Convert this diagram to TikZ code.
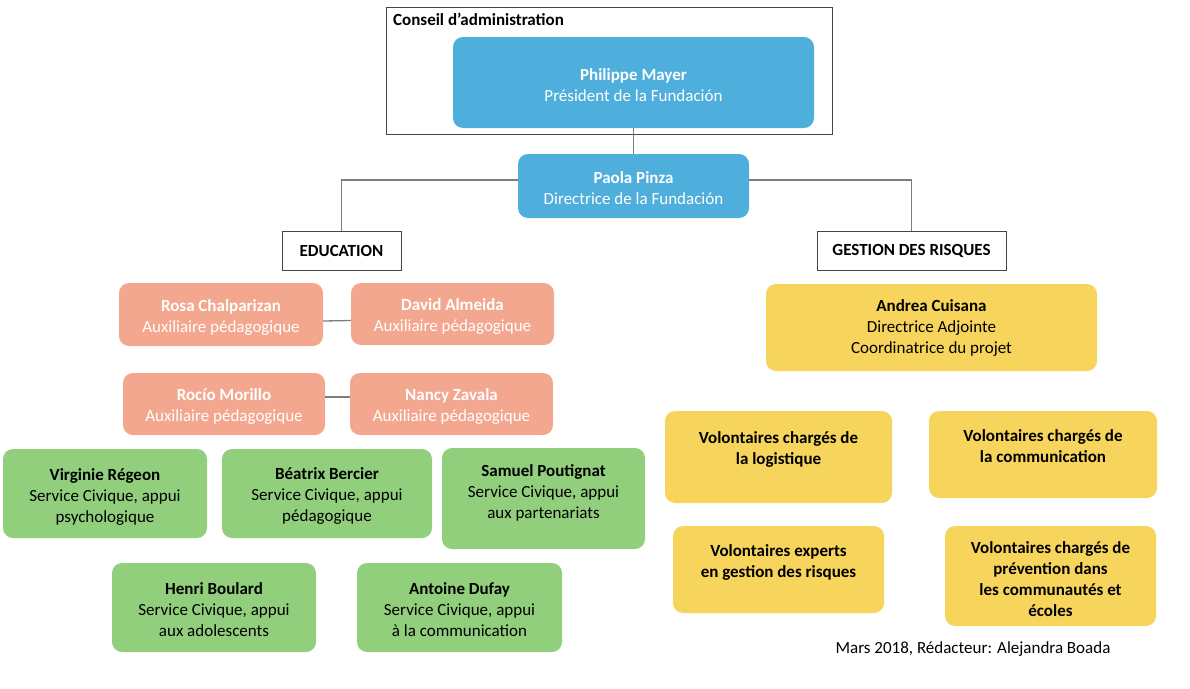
\documentclass[tikz,border=0pt]{standalone}
\usepackage{fontspec}
\setmainfont{Carlito}
\usetikzlibrary{calc}
\definecolor{cblue}{RGB}{78,174,220}
\definecolor{csalmon}{RGB}{244,167,143}
\definecolor{cgreen}{RGB}{145,207,125}
\definecolor{cyellow}{RGB}{247,213,92}
\definecolor{linegray}{RGB}{125,125,125}
\definecolor{framegray}{RGB}{70,70,70}
\tikzset{
  base/.style={rounded corners=10pt, inner sep=0pt},
  bluebox/.style={base, fill=cblue},
  salmonbox/.style={base, fill=csalmon},
  greenbox/.style={base, fill=cgreen},
  yellowbox/.style={base, fill=cyellow},
  txt/.style={inner sep=0pt, align=center, font=\fontsize{17}{21}\selectfont},
  wtxt/.style={txt, text=white},
  btxt/.style={txt, font=\fontsize{17}{21}\selectfont\bfseries},
  hdr/.style={draw=framegray, line width=0.9pt, fill=white, inner sep=0pt, font=\fontsize{17}{21}\selectfont\bfseries},
  conn/.style={draw=linegray, line width=1.3pt},
}
\begin{document}
\begin{tikzpicture}[x=1pt,y=-1pt]
\useasboundingbox (0,0) rectangle (1190,688);

% Conseil d'administration frame
\node[draw=framegray, line width=0.9pt, minimum width=446pt, minimum height=127pt, inner sep=0pt] (conseil) at (609,70.5) {};
\node[btxt, anchor=base west] (conseiltxt) at (393,25) {Conseil d’administration};

% top
\node[bluebox, minimum width=361pt, minimum height=91pt] (phil) at (633.5,82.5) {};
\node[wtxt] (philt) at (633.5,85) {\textbf{Philippe Mayer}\\Président de la Fundación};
\node[bluebox, minimum width=231pt, minimum height=64pt] (paola) at (633.5,186) {};
\node[wtxt] (paolat) at (633.5,188.5) {\textbf{Paola Pinza}\\Directrice de la Fundación};

% headers
\node[hdr, minimum width=119pt, minimum height=39pt] (edu) at (341.5,250.5) {EDUCATION};
\node[hdr, minimum width=189pt, minimum height=39pt] (gest) at (911.5,250.5) {GESTION DES RISQUES};

% connectors
\draw[conn] (phil.south) -- (paola.north);
\draw[conn] ([yshift=6pt]paola.west) -| (edu.north);
\draw[conn] ([yshift=6pt]paola.east) -| (gest.north);

% education - salmon
\node[salmonbox, minimum width=204pt, minimum height=63pt] (rosa) at (221,314.5) {};
\node[wtxt] (rosat) at (221,317) {\textbf{Rosa Chalparizan}\\Auxiliaire pédagogique};
\node[salmonbox, minimum width=203pt, minimum height=62pt] (david) at (452.5,314) {};
\node[wtxt] (davidt) at (452.5,316.5) {\textbf{David Almeida}\\Auxiliaire pédagogique};
\node[salmonbox, minimum width=202pt, minimum height=62pt] (rocio) at (224,404) {};
\node[wtxt] (rociot) at (224,406.5) {\textbf{Rocío Morillo}\\Auxiliaire pédagogique};
\node[salmonbox, minimum width=203pt, minimum height=62pt] (nancy) at (451.5,404) {};
\node[wtxt] (nancyt) at (451.5,406.5) {\textbf{Nancy Zavala}\\Auxiliaire pédagogique};
\draw[conn] ([yshift=-6.5pt]rosa.east) -- ([yshift=-6.5pt]david.west);
\draw[conn] ([yshift=7pt]rocio.east) -- ([yshift=7pt]nancy.west);

% education - green
\node[greenbox, minimum width=204pt, minimum height=89pt] (virg) at (105,493.5) {};
\node[txt] (virgt) at (105,496.5) {\textbf{Virginie Régeon}\\Service Civique, appui\\psychologique};
\node[greenbox, minimum width=210pt, minimum height=89pt] (beat) at (327,493.5) {};
\node[txt] (beatt) at (327,496) {\textbf{Béatrix Bercier}\\Service Civique, appui\\pédagogique};
\node[greenbox, minimum width=203pt, minimum height=101pt] (samu) at (543.5,498.5) {};
\node[txt] (samut) at (543.5,492.5) {\textbf{Samuel Poutignat}\\Service Civique, appui\\aux partenariats};
\node[greenbox, minimum width=204pt, minimum height=89pt] (henri) at (214,607.5) {};
\node[txt] (henrit) at (214,610) {\textbf{Henri Boulard}\\Service Civique, appui\\aux adolescents};
\node[greenbox, minimum width=205pt, minimum height=89pt] (antoine) at (459.5,607.5) {};
\node[txt] (antoinet) at (459.5,610) {\textbf{Antoine Dufay}\\Service Civique, appui\\à la communication};

% gestion - yellow
\node[yellowbox, minimum width=331pt, minimum height=87pt] (andrea) at (931.5,327.5) {};
\node[txt] (andreat) at (931.5,328) {\textbf{Andrea Cuisana}\\Directrice Adjointe\\Coordinatrice du projet};
\node[yellowbox, minimum width=227pt, minimum height=92pt] (logi) at (778.5,457) {};
\node[btxt] (logit) at (778.5,449.5) {Volontaires chargés de\\la logistique};
\node[yellowbox, minimum width=228pt, minimum height=87pt] (comm) at (1043,454.5) {};
\node[btxt] (commt) at (1043,446.5) {Volontaires chargés de\\la communication};
\node[yellowbox, minimum width=211pt, minimum height=87pt] (expe) at (778.5,569.5) {};
\node[btxt] (expet) at (778.5,562) {Volontaires experts\\en gestion des risques};
\node[yellowbox, minimum width=211pt, minimum height=100pt] (prev) at (1050.5,576) {};
\node[btxt] (prevt) at (1050.5,579) {Volontaires chargés de\\prévention dans\\les communautés et\\écoles};

% footer
\node[txt] (footer) at (973,649) {Mars 2018, Rédacteur: Alejandra Boada};
\end{tikzpicture}
\end{document}
